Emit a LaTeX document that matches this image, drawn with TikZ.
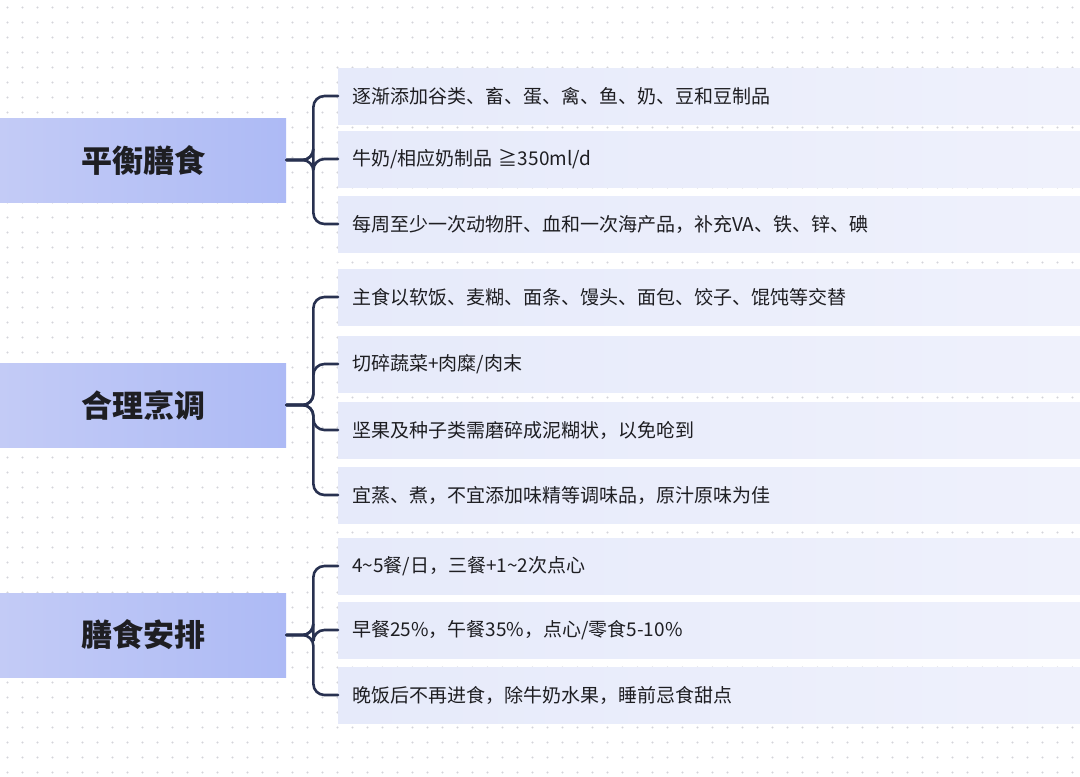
\documentclass[tikz,border=0pt]{standalone}
\usepackage{fontspec}
\setmainfont{Noto Sans CJK SC}
\usetikzlibrary{calc}
\definecolor{mainL}{HTML}{C3CBF6}
\definecolor{mainR}{HTML}{ADBAF5}
\definecolor{leafL}{HTML}{E6EAFA}
\definecolor{leafR}{HTML}{EFF1FC}
\definecolor{brc}{HTML}{283150}
\definecolor{txt}{HTML}{1E1E22}
\definecolor{dotc}{HTML}{D4D4DA}
\tikzset{
  mainbox/.style={left color=mainL, right color=mainR, draw=none, minimum width=286pt, minimum height=84pt, anchor=west, inner sep=0pt, font=\fontsize{31}{34}\selectfont\bfseries, text=txt},
  leafbox/.style={left color=leafL, right color=leafR, draw=none, minimum width=742pt, minimum height=56pt, anchor=west, inner sep=0pt, text width=742pt, align=left, font=\fontsize{19}{21}\selectfont, text=txt},
  br/.style={draw=brc, line width=2.6pt, rounded corners=11pt, line cap=round}
}
\begin{document}
\begin{tikzpicture}[x=1pt,y=-1pt]
\useasboundingbox (0,0) rectangle (1080,777);
\fill[white] (0,0) rectangle (1080,777);
\foreach \i in {0,...,71}{\foreach \j in {0,...,51}{\fill[dotc] (7.5+15*\i,7.5+15*\j) circle (1.1pt);}}
% main nodes
\node[mainbox] (m1) at (0,160) {平衡膳食};
\node[mainbox] (m2) at (0,405) {合理烹调};
\node[mainbox] (m3) at (0,635) {膳食安排};
% leaves group 1
\node[leafbox] (l11) at (338,96) {\hspace*{14pt}逐渐添加谷类、畜、蛋、禽、鱼、奶、豆和豆制品};
\node[leafbox] (l12) at (338,159) {\hspace*{14pt}牛奶/相应奶制品 ≧350ml/d};
\node[leafbox] (l13) at (338,224) {\hspace*{14pt}每周至少一次动物肝、血和一次海产品，补充VA、铁、锌、碘};
% group 2
\node[leafbox] (l21) at (338,297) {\hspace*{14pt}主食以软饭、麦糊、面条、馒头、面包、饺子、馄饨等交替};
\node[leafbox] (l22) at (338,364) {\hspace*{14pt}切碎蔬菜+肉糜/肉末};
\node[leafbox] (l23) at (338,430) {\hspace*{14pt}坚果及种子类需磨碎成泥糊状，以免呛到};
\node[leafbox] (l24) at (338,495) {\hspace*{14pt}宜蒸、煮，不宜添加味精等调味品，原汁原味为佳};
% group 3
\node[leafbox] (l31) at (338,566) {\hspace*{14pt}4\textasciitilde5餐/日，三餐+1\textasciitilde2次点心};
\node[leafbox] (l32) at (338,630) {\hspace*{14pt}早餐25\%，午餐35\%，点心/零食5-10\%};
\node[leafbox] (l33) at (338,695) {\hspace*{14pt}晚饭后不再进食，除牛奶水果，睡前忌食甜点};
% brackets
\foreach \l in {l11,l12,l13}{\draw[br] (m1.east) -- ++(27,0) |- (\l.west);}
\foreach \l in {l21,l22,l23,l24}{\draw[br] (m2.east) -- ++(27,0) |- (\l.west);}
\foreach \l in {l31,l32,l33}{\draw[br] (m3.east) -- ++(27,0) |- (\l.west);}
\end{tikzpicture}
\end{document}
